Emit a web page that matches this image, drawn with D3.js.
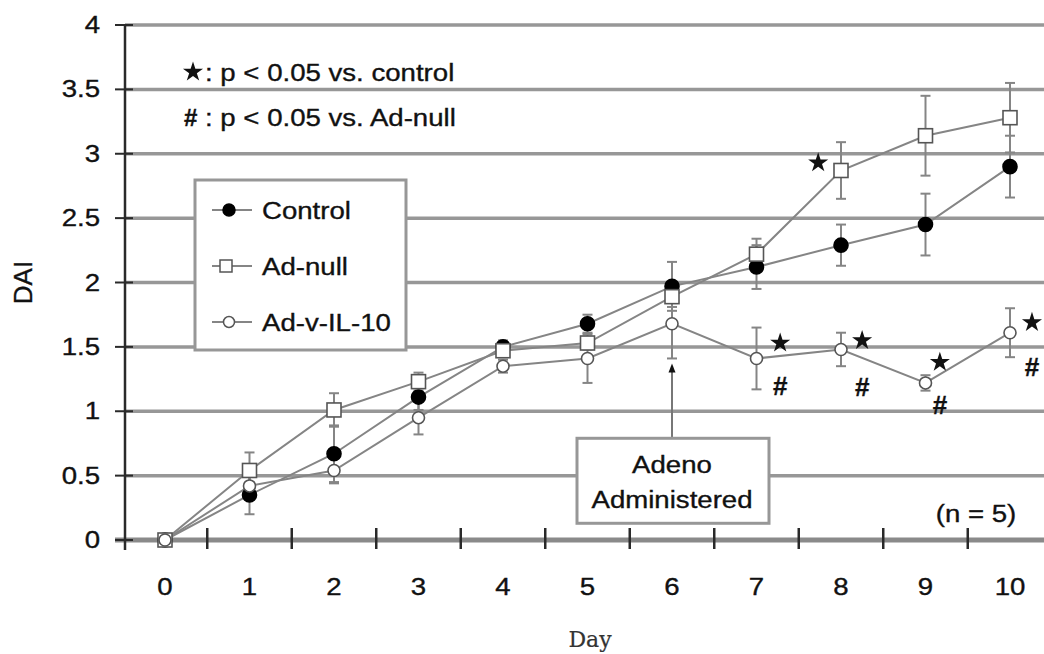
<!DOCTYPE html>
<html><head><meta charset="utf-8">
<script src="https://cdn.jsdelivr.net/npm/d3@7/dist/d3.min.js"></script>
<style>html,body{margin:0;padding:0;background:#fff}</style>
</head><body>
<svg id="c" width="1044" height="654"></svg>
<script>
const days = [0,1,2,3,4,5,6,7,8,9,10];
const control    = [0, 0.35, 0.67, 1.11, 1.50, 1.68, 1.97, 2.12, 2.29, 2.45, 2.90];
const controlErr = [0, 0.15, 0.22, 0.10, 0.05, 0.07, 0.19, 0.17, 0.16, 0.24, 0.24];
const adNull     = [0, 0.54, 1.01, 1.23, 1.47, 1.53, 1.89, 2.22, 2.87, 3.14, 3.28];
const adNullErr  = [0, 0.14, 0.13, 0.07, 0.05, 0.05, 0.08, 0.12, 0.22, 0.31, 0.27];
const adIL10     = [0, 0.42, 0.54, 0.95, 1.35, 1.41, 1.68, 1.41, 1.48, 1.22, 1.61];
const adIL10Err  = [0, 0.10, 0.10, 0.13, 0.05, 0.19, 0.27, 0.24, 0.13, 0.06, 0.19];
const yTicks = [0,0.5,1,1.5,2,2.5,3,3.5,4];
const yTickLabels = ["0","0.5","1","1.5","2","2.5","3","3.5","4"];
const xTickLabels = ["0","1","2","3","4","5","6","7","8","9","10"];
const seriesNames = ["Control","Ad-null","Ad-v-IL-10"];
const starMarks = [{day:7.73,v:2.93},{day:7.28,v:1.53},{day:8.25,v:1.55},{day:9.17,v:1.38},{day:10.26,v:1.69}];
const hashMarks = [{day:7.28,v:1.20},{day:8.25,v:1.19},{day:9.17,v:1.05},{day:10.26,v:1.34}];
const arrowDay = 6, arrowFrom = 0.79, arrowTo = 1.37;

const svg = d3.select("#c");
const x = d3.scaleLinear().domain([0,10]).range([165,1010]);
const y = d3.scaleLinear().domain([0,4]).range([540,25]);
const FONT = "'Liberation Sans', Arial, sans-serif";
const SX = 1.15;

function label(g, px, py, s, o={}) {
  return g.append("text")
    .attr("transform", `translate(${px},${py}) scale(${o.sx ?? SX},1)`)
    .attr("text-anchor", o.anchor || "start")
    .attr("font-family", o.family || FONT)
    .attr("font-size", o.size || 24)
    .attr("font-weight", o.weight || "normal")
    .attr("fill", o.fill || "#111")
    .attr("stroke", o.fill || "#111").attr("stroke-width", o.sw ?? 0.35)
    .text(s);
}

const axisX0 = 125;
svg.append("g").selectAll("line").data(yTicks.filter(v=>v>0)).join("line")
  .attr("x1", axisX0).attr("x2", 1044).attr("y1", d=>y(d)).attr("y2", d=>y(d))
  .attr("stroke", "#979797").attr("stroke-width", 3.5);
svg.append("line").attr("x1", 115).attr("x2", 1044).attr("y1", y(0)).attr("y2", y(0))
  .attr("stroke", "#8a8a8a").attr("stroke-width", 5);
svg.append("line").attr("x1", axisX0).attr("x2", axisX0).attr("y1", y(4)).attr("y2", y(0)+10)
  .attr("stroke", "#2a2a2a").attr("stroke-width", 2.5);
svg.append("g").selectAll("line").data(yTicks).join("line")
  .attr("x1", 115).attr("x2", 133).attr("y1", d=>y(d)).attr("y2", d=>y(d))
  .attr("stroke", "#2a2a2a").attr("stroke-width", 2);
svg.append("g").selectAll("line").data(days.slice(0,10).map(d=>d+0.5)).join("line")
  .attr("x1", d=>x(d)).attr("x2", d=>x(d)).attr("y1", y(0)-12).attr("y2", y(0)+9)
  .attr("stroke", "#2a2a2a").attr("stroke-width", 2.5);
const tl = svg.append("g");
yTicks.forEach((v,i)=> label(tl, 100, y(v)+8, yTickLabels[i], {anchor:"end", size:24}));
days.forEach((d,i)=> label(tl, x(d), 595, xTickLabels[i], {anchor:"middle", size:24}));
label(svg, 590, 647, "Day", {anchor:"middle", size:22, family:"'DejaVu Serif','Liberation Serif',serif", sx:1, fill:"#333", sw:0.2});
svg.append("text").attr("transform", `translate(32,${y(2)}) rotate(-90)`)
  .attr("text-anchor","middle").attr("font-family",FONT).attr("font-size",26).attr("fill","#111")
  .attr("stroke","#111").attr("stroke-width",0.35).text("DAI");

const series = [
  {name:seriesNames[0], vals:control, err:controlErr, type:"filled"},
  {name:seriesNames[1], vals:adNull, err:adNullErr, type:"square"},
  {name:seriesNames[2], vals:adIL10, err:adIL10Err, type:"open"}
];
const lineGen = d3.line().x(d=>x(d.day)).y(d=>y(d.v));
const gErr = svg.append("g"), gLine = svg.append("g"), gMark = svg.append("g");
series.forEach(s=>{
  const pts = days.map((d,i)=>({day:d, v:s.vals[i], e:s.err[i]}));
  const eb = pts.filter(p=>p.e>0);
  gErr.selectAll(null).data(eb).join("line")
    .attr("x1",p=>x(p.day)).attr("x2",p=>x(p.day)).attr("y1",p=>y(p.v+p.e)).attr("y2",p=>y(p.v-p.e))
    .attr("stroke","#858585").attr("stroke-width",2);
  [1,-1].forEach(sg=>{
    gErr.selectAll(null).data(eb).join("line")
      .attr("x1",p=>x(p.day)-5).attr("x2",p=>x(p.day)+5).attr("y1",p=>y(p.v+sg*p.e)).attr("y2",p=>y(p.v+sg*p.e))
      .attr("stroke","#858585").attr("stroke-width",2);
  });
  gLine.append("path").datum(pts).attr("d", lineGen).attr("fill","none")
    .attr("stroke","#858585").attr("stroke-width",2);
  drawMarkers(gMark, pts, s.type);
});
function drawMarkers(g, pts, type){
  if (type==="square") {
    g.selectAll(null).data(pts).join("rect")
      .attr("x",p=>x(p.day)-7).attr("y",p=>y(p.v)-7).attr("width",14).attr("height",14)
      .attr("fill","#fff").attr("stroke","#555").attr("stroke-width",1.6);
  } else {
    g.selectAll(null).data(pts).join("circle")
      .attr("cx",p=>x(p.day)).attr("cy",p=>y(p.v)).attr("r", type==="filled"?7:6)
      .attr("fill", type==="filled"?"#000":"#fff").attr("stroke", type==="filled"?"#000":"#555").attr("stroke-width",1.6);
  }
}
const star = d3.symbol(d3.symbolStar, 125);
svg.append("g").selectAll("path").data(starMarks).join("path")
  .attr("transform", d=>`translate(${x(d.day)},${y(d.v)})`).attr("d", star()).attr("fill","#111");
const gh = svg.append("g");
hashMarks.forEach(d=> label(gh, x(d.day), y(d.v)+9, "#", {anchor:"middle", size:26, weight:"bold", sx:1}));

svg.append("path").attr("transform","translate(193,72)").attr("d", star()).attr("fill","#111");
label(svg, 205, 81, ": p < 0.05 vs. control", {size:24});
label(svg, 184, 126, "#", {size:24, weight:"bold", sx:1});
label(svg, 205, 126, ": p < 0.05 vs. Ad-null", {size:24});

const lg = svg.append("g");
lg.append("rect").attr("x",195).attr("y",180).attr("width",211).attr("height",170)
  .attr("fill","#fff").attr("stroke","#979797").attr("stroke-width",3);
const legY = [210, 266, 322];
series.forEach((s,i)=>{
  lg.append("line").attr("x1",212).attr("x2",252).attr("y1",legY[i]).attr("y2",legY[i])
    .attr("stroke","#858585").attr("stroke-width",2);
  const mk = lg.append("g");
  if (s.type==="square") mk.append("rect").attr("x",226-6).attr("y",legY[i]-6).attr("width",12).attr("height",12)
      .attr("fill","#fff").attr("stroke","#555").attr("stroke-width",1.5);
  else mk.append("circle").attr("cx",229).attr("cy",legY[i]).attr("r", s.type==="filled"?6:5.5)
      .attr("fill", s.type==="filled"?"#000":"#fff").attr("stroke", s.type==="filled"?"#000":"#555").attr("stroke-width",1.5);
  label(lg, 262, legY[i]+9, s.name, {size:24});
});

const ax = x(arrowDay);
svg.append("line").attr("x1",ax).attr("x2",ax).attr("y1",y(arrowFrom)).attr("y2",y(arrowTo)+6)
  .attr("stroke","#777").attr("stroke-width",2);
svg.append("path").attr("d",`M${ax},${y(arrowTo)} l-3.5,9 l7,0 z`).attr("fill","#111");
svg.append("rect").attr("x",ax-95).attr("y",y(arrowFrom)).attr("width",192).attr("height",85)
  .attr("fill","#fff").attr("stroke","#979797").attr("stroke-width",3);
label(svg, ax, y(arrowFrom)+35, "Adeno", {anchor:"middle", size:24});
label(svg, ax, y(arrowFrom)+70, "Administered", {anchor:"middle", size:24});
label(svg, 976, 522, "(n = 5)", {anchor:"middle", size:24});
</script>
</body></html>
